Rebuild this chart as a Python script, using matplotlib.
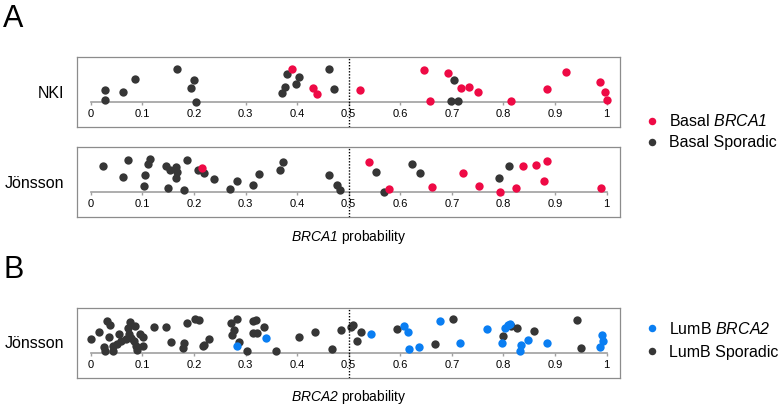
import numpy as np
import matplotlib
matplotlib.use("Agg")
from matplotlib import pyplot as plt
from matplotlib.lines import Line2D
from matplotlib import transforms

plt.rcParams["font.family"] = ["Liberation Sans", "DejaVu Sans"]
plt.rcParams["mathtext.fontset"] = "custom"
plt.rcParams["mathtext.rm"] = "Liberation Sans:italic"
plt.rcParams["mathtext.it"] = "Liberation Sans:italic"

RED = "#ee0a45"
GREY = "#363636"
BLUE = "#0a7ef2"

# NKI, basal: probability and vertical jitter
nki_spor_x = [0.028, 0.028, 0.062, 0.086, 0.167, 0.201, 0.194, 0.204, 0.380,
              0.403, 0.377, 0.397, 0.371, 0.461, 0.472, 0.704, 0.698, 0.711]
nki_spor_y = [12.3, 2.3, 10, 22.7, 33.3, 22, 14, 0, 28.3,
              25, 15.3, 17.7, 9.3, 33.3, 13.3, 22, 1.3, 1.3]
nki_brca_x = [0.391, 0.431, 0.439, 0.521, 0.645, 0.658, 0.693, 0.718, 0.733,
              0.751, 0.815, 0.884, 0.922, 0.987, 0.997, 1.0]
nki_brca_y = [33.3, 14.3, 8, 12, 32, 1.3, 28.7, 14.3, 14.7,
              9.7, 1.3, 13.3, 29.7, 20.3, 9.7, 1.7]

# Jonsson, basal
jon_spor_x = [0.024, 0.073, 0.114, 0.111, 0.063, 0.105, 0.103, 0.145, 0.153,
              0.166, 0.168, 0.165, 0.150, 0.180, 0.186, 0.207, 0.220, 0.238,
              0.270, 0.284, 0.315, 0.327, 0.366, 0.372, 0.461, 0.478, 0.484,
              0.553, 0.569, 0.623, 0.638, 0.792, 0.811]
jon_spor_y = [26.3, 32.3, 33.3, 28, 15, 16.7, 6, 26, 21.7,
              24.7, 20.3, 14.3, 4, 2.3, 32.3, 22, 19, 13,
              3.3, 11.3, 7.3, 18, 22, 30, 17.3, 7.3, 2.3,
              20.3, 0, 28.3, 19, 14, 26.3]
jon_brca_x = [0.215, 0.539, 0.579, 0.662, 0.722, 0.753, 0.793, 0.825, 0.838,
              0.863, 0.878, 0.884, 0.989]
jon_brca_y = [24.3, 30, 3.3, 4.7, 19.3, 6, 0, 3.7, 25.7,
              26.7, 11.3, 30.7, 3.7]

# Jonsson, luminal B
lumb_spor_x = [0.0, 0.017, 0.031, 0.037, 0.036, 0.026, 0.028, 0.043, 0.044,
               0.050, 0.059, 0.054, 0.068, 0.073, 0.076, 0.075, 0.079, 0.086,
               0.083, 0.088, 0.090, 0.096, 0.102, 0.101, 0.123, 0.145, 0.156,
               0.178, 0.180, 0.186, 0.202, 0.209, 0.217, 0.220, 0.230, 0.271,
               0.283, 0.278, 0.274, 0.287, 0.302, 0.315, 0.320, 0.315, 0.322,
               0.335, 0.360, 0.404, 0.435, 0.467, 0.485, 0.504, 0.509, 0.517,
               0.523, 0.594, 0.667, 0.703, 0.799, 0.815, 0.827, 0.859, 0.943,
               0.951]
lumb_spor_y = [14.3, 20.7, 32.3, 28.3, 16, 5.7, 2.3, 1.7, 6.7,
               9, 11.7, 19, 14.3, 25, 31, 19, 15, 26.7,
               11.7, 6.7, 3.3, 19, 15.7, 7.3, 26, 26, 11,
               5, 10, 30, 34, 33.3, 6.7, 8.3, 14.3, 30,
               34, 23.3, 18.3, 10.7, 1.7, 31.7, 32.7, 20, 20,
               25.7, 2.3, 16, 21, 4, 22.7, 25.7, 27.7, 11.7,
               20.7, 24, 9.3, 34.3, 17.3, 27, 25, 22.3, 33.3,
               5.3]
lumb_brca_x = [0.284, 0.340, 0.543, 0.607, 0.615, 0.616, 0.636, 0.676, 0.716,
               0.768, 0.798, 0.803, 0.809, 0.813, 0.848, 0.833, 0.832, 0.885,
               0.991, 0.993, 0.987]
lumb_brca_y = [7.3, 15, 19, 27, 20.7, 4.3, 6.3, 32, 10,
               23.7, 10.3, 25.3, 27.7, 29.3, 13, 8.3, 2.3, 10.3,
               17.7, 12.3, 6]

tick_vals = np.round(np.arange(0, 1.01, 0.1), 1)
tick_text = ["0"] + [f"{t:.1f}" for t in tick_vals[1:-1]] + ["1"]

W, H = 784, 408


def panel(top_px, label, groups):
    ax = plt.axes([77 / W, 1 - (top_px + 70) / H, 543 / W, 70 / H])
    ax.set_xlim(-0.0266, 1.0258)
    ax.set_ylim(-25, 45)
    ax.set_yticks([])
    ax.set_xticks([])
    for s in ax.spines.values():
        s.set_color("#8c8c8c")
        s.set_linewidth(0.9)
    sec = ax.secondary_xaxis(25 / 70)
    sec.spines["bottom"].set_bounds(0, 1)
    sec.spines["bottom"].set_color("#a0a0a0")
    sec.spines["bottom"].set_linewidth(1.2)
    sec.set_xticks(tick_vals, tick_text)
    sec.tick_params(direction="out", length=2.5, width=1, color="#a0a0a0",
                    pad=2.5, labelsize=8)
    for x, y, c in groups:
        ax.scatter(x, y, s=36, color=c, linewidths=0, zorder=3)
    ax.axvline(0.5, color="black", linestyle=(0, (1, 1.2)), linewidth=1,
               zorder=4)
    tr = transforms.blended_transform_factory(ax.transAxes, ax.transData)
    ax.text(-0.024, 9, label, transform=tr, ha="right", va="center",
            fontsize=11.5)
    return ax


fig = plt.figure(figsize=(W / 100, H / 100), dpi=100)

panel(57, "NKI", [(nki_spor_x, nki_spor_y, GREY), (nki_brca_x, nki_brca_y, RED)])
ax2 = panel(147, "Jönsson", [(jon_spor_x, jon_spor_y, GREY),
                             (jon_brca_x, jon_brca_y, RED)])
ax2.text(0.5, -0.29, r"$BRCA1$ probability", transform=ax2.transAxes,
         ha="center", va="center", fontsize=10)
ax3 = panel(308, "Jönsson", [(lumb_spor_x, lumb_spor_y, GREY),
                             (lumb_brca_x, lumb_brca_y, BLUE)])
ax3.text(0.5, -0.27, r"$BRCA2$ probability", transform=ax3.transAxes,
         ha="center", va="center", fontsize=10)

fig.text(3 / W, 1 - 19 / H, "A", fontsize=22, ha="left", va="center")
fig.text(3 / W, 1 - 270 / H, "B", fontsize=22, ha="left", va="center")


def legend(top_px, items, spacing):
    handles = [Line2D([], [], linestyle="none", marker="o", markersize=5.4,
                      markerfacecolor=c, markeredgewidth=0) for c, _ in items]
    fig.legend(handles, [t for _, t in items], loc="upper left",
               bbox_to_anchor=(643.7 / W, 1 - top_px / H), frameon=False,
               borderpad=0, borderaxespad=0, handlelength=1,
               handletextpad=0.58, labelspacing=spacing, fontsize=11.5)


legend(113.5, [(RED, r"Basal $BRCA1$"), (GREY, "Basal Sporadic")], 0.35)
legend(321, [(BLUE, r"LumB $BRCA2$"), (GREY, "LumB Sporadic")], 0.5)

fig.savefig("out.png", dpi=100)
